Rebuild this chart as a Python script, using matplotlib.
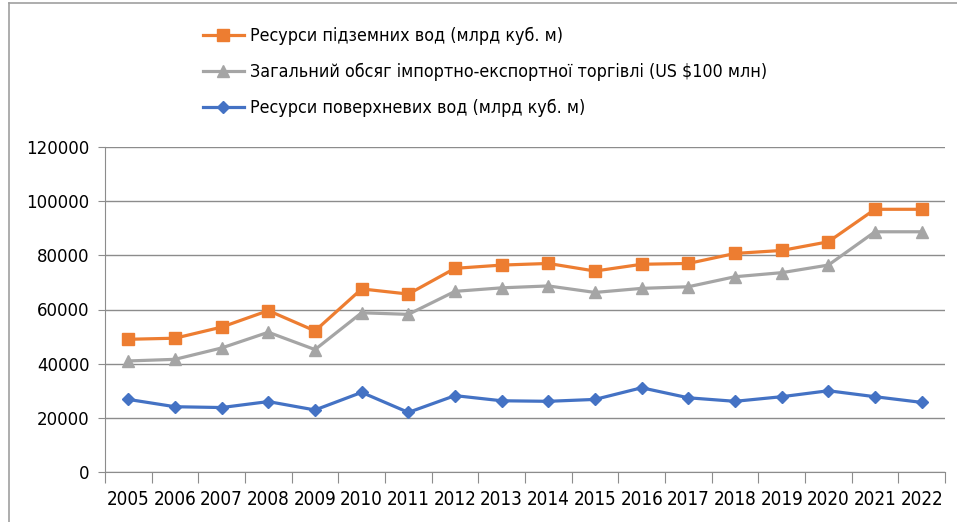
import numpy as np
import matplotlib.pyplot as plt
from matplotlib.lines import Line2D

years = [str(y) for y in range(2005, 2023)]
ground = [49000, 49400, 53500, 59600, 52100, 67600, 65700, 75200, 76400,
          77000, 74200, 76700, 77000, 80700, 81800, 85000, 97000, 97000]
trade = [41000, 41600, 45800, 51600, 45200, 58800, 58200, 66700, 68000,
         68700, 66300, 67800, 68400, 72100, 73600, 76400, 88700, 88700]
surface = [26800, 24100, 23800, 26000, 22900, 29400, 22000, 28200, 26300,
           26100, 26800, 31100, 27400, 26100, 27800, 30000, 27800, 25700]
labels = ["Ресурси підземних вод (млрд куб. м)",
          "Загальний обсяг імпортно-експортної торгівлі (US $100 млн)",
          "Ресурси поверхневих вод (млрд куб. м)"]

fig = plt.figure(figsize=(9.57, 5.22), dpi=100)
ax = fig.add_axes([105/957, 1-472/522, 840/957, 325/522])

x = np.arange(len(years))
l3, = ax.plot(x, surface, color="#4472C4", lw=2.3, marker="D", ms=6.5, zorder=3)
l2, = ax.plot(x, trade, color="#A5A5A5", lw=2.3, marker="^", ms=8.5, zorder=4)
l1, = ax.plot(x, ground, color="#ED7D31", lw=2.3, marker="s", ms=8.5, zorder=5)

ax.set_xlim(-0.5, len(years) - 0.5)
ax.set_ylim(0, 120000)
ax.set_yticks(np.arange(0, 120001, 20000))
ax.set_yticklabels([str(v) for v in range(0, 120001, 20000)],
                   fontsize=12, family="DejaVu Sans")
ax.yaxis.grid(True, color="#8c8c8c", lw=1)
ax.set_axisbelow(True)
ax.tick_params(axis="y", length=5, color="#8c8c8c", pad=6)

# ticks between categories, labels in the middle
ax.set_xticks(np.arange(-0.5, len(years)), minor=False)
ax.set_xticklabels([])
ax.set_xticks(x, minor=True)
ax.set_xticklabels(years, minor=True, fontsize=13.5, family="DejaVu Sans",
                   fontstretch="condensed")
ax.tick_params(axis="x", which="major", length=8, color="#8c8c8c")
ax.tick_params(axis="x", which="minor", length=0, pad=13)

for s in ["top", "right"]:
    ax.spines[s].set_visible(False)
for s in ["left", "bottom"]:
    ax.spines[s].set_color("#8c8c8c")

fig.legend([l1, l2, l3], labels, loc="upper left", bbox_to_anchor=(187/957, 1-11/522),
           frameon=False, prop={"family": "DejaVu Sans", "stretch": "condensed", "size": 12.8},
           handlelength=2.3, handletextpad=0.33, labelspacing=1.0)

fig.add_artist(Line2D([9/957, 9/957], [0, 1-3/522], color="#a0a0a0", lw=1.2))
fig.add_artist(Line2D([9/957, 1], [1-3/522, 1-3/522], color="#a0a0a0", lw=1.2))

fig.savefig("out.png")
